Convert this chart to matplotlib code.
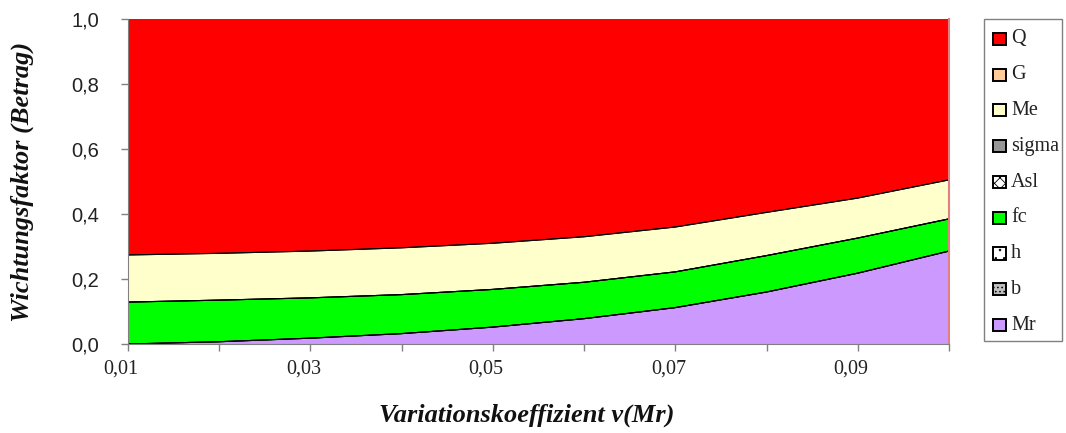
import matplotlib
matplotlib.use("Agg")
import matplotlib.pyplot as plt
import matplotlib.transforms as mtransforms
from matplotlib.patches import Rectangle
from matplotlib.ticker import FuncFormatter

# Variation coefficient of Mr
v_mr = [0.01, 0.02, 0.03, 0.04, 0.05, 0.06, 0.07, 0.08, 0.09, 0.10]
x_tick_labels = ["0,01", "", "0,03", "", "0,05", "", "0,07", "", "0,09", ""]

# Weighting factors (absolute), stacked from bottom to top
w_mr    = [0.000, 0.007, 0.018, 0.032, 0.052, 0.078, 0.112, 0.160, 0.218, 0.286]
w_b     = [0.0] * 10
w_h     = [0.0] * 10
w_fc    = [0.129, 0.128, 0.124, 0.120, 0.116, 0.112, 0.110, 0.112, 0.108, 0.099]
w_asl   = [0.0] * 10
w_sigma = [0.0] * 10
w_me    = [0.145, 0.144, 0.144, 0.144, 0.142, 0.140, 0.138, 0.133, 0.123, 0.120]
w_g     = [0.0] * 10
w_q     = [0.726, 0.721, 0.714, 0.704, 0.690, 0.670, 0.640, 0.595, 0.551, 0.495]

series = [
    ("Mr", w_mr, "#CC99FF", None),
    ("b", w_b, "#C0C0C0", "...."),
    ("h", w_h, "#FFFFFF", ".."),
    ("fc", w_fc, "#00FF00", None),
    ("Asl", w_asl, "#FFFFFF", "xxx"),
    ("sigma", w_sigma, "#969696", None),
    ("Me", w_me, "#FFFFCC", None),
    ("G", w_g, "#FFCC99", None),
    ("Q", w_q, "#FF0000", None),
]
legend_order = ["Q", "G", "Me", "sigma", "Asl", "fc", "h", "b", "Mr"]

plt.rcParams["hatch.linewidth"] = 0.6

W, H = 1066, 433
fig = plt.figure(figsize=(W / 100, H / 100), dpi=100)
ax = fig.add_axes([128 / W, 1 - 344 / H, 821 / W, 325 / H])

base = [0.0] * len(v_mr)
for name, vals, col, hatch in series:
    top = [b + v for b, v in zip(base, vals)]
    ax.fill_between(v_mr, base, top, facecolor=col, edgecolor="none", hatch=hatch)
    if name != "Q":
        ax.plot(v_mr, top, color="black", lw=0.8)
    base = top

ax.set_xlim(v_mr[0], v_mr[-1])
ax.set_ylim(0, 1.0)
ax.set_xticks(v_mr)
ax.set_yticks([0, 0.2, 0.4, 0.6, 0.8, 1.0])
ax.yaxis.set_major_formatter(FuncFormatter(lambda y, _: f"{y:.1f}".replace(".", ",")))
ax.tick_params(axis="both", direction="out", length=5, color="#808080", width=1)
ax.tick_params(axis="x", pad=6)
ax.tick_params(axis="y", pad=16)

ax.set_xticklabels(x_tick_labels, fontfamily="Liberation Serif", fontsize=14.5, color="#222222")
shift = mtransforms.ScaledTranslation(-7 / 100, 0, fig.dpi_scale_trans)
for lab in ax.get_xticklabels():
    lab.set_transform(lab.get_transform() + shift)
for lab in ax.get_yticklabels():
    lab.set_fontfamily("Liberation Sans")
    lab.set_fontsize(14.5)
    lab.set_color("#222222")

for s in ("left", "bottom"):
    ax.spines[s].set_color("#808080")
ax.spines["top"].set_visible(False)
ax.spines["right"].set_color("#E08080")
ax.spines["right"].set_linewidth(1.5)

ax.set_xlabel("Variationskoeffizient v(Mr)", fontfamily="Liberation Serif",
              fontsize=19, fontstyle="italic", fontweight="bold", va="center", color="#111111")
ax.xaxis.set_label_coords((527 - 128) / 821, (344 - 415) / 325)
ax.set_ylabel("Wichtungsfaktor (Betrag)", fontfamily="Liberation Serif",
              fontsize=19, fontstyle="italic", fontweight="bold", va="center", color="#111111")
ax.yaxis.set_label_coords((22 - 128) / 821, 0.5)

# Legend box drawn in figure pixel coordinates
def fx(px):
    return px / W

def fy(py):
    return 1 - py / H

lookup = {n: (c, h) for n, _, c, h in series}
fig.patches.append(Rectangle((fx(984), fy(341)), fx(1062) - fx(984), fy(19) - fy(341),
                             transform=fig.transFigure, facecolor="white",
                             edgecolor="#808080", lw=1.0, zorder=1))
for i, name in enumerate(legend_order):
    yc = 39 + i * 35.75
    col, hatch = lookup[name]
    fig.patches.append(Rectangle((fx(993), fy(yc + 6)), fx(1006) - fx(993), fy(yc - 6) - fy(yc + 6),
                                 transform=fig.transFigure, facecolor=col, hatch=hatch,
                                 edgecolor="black", lw=1.4, zorder=2))
    fig.text(fx(1011), fy(yc), name, ha="left", va="center", fontsize=14.5,
             fontfamily="Liberation Serif", color="#222222", zorder=3)

fig.savefig("out.png", dpi=100)
